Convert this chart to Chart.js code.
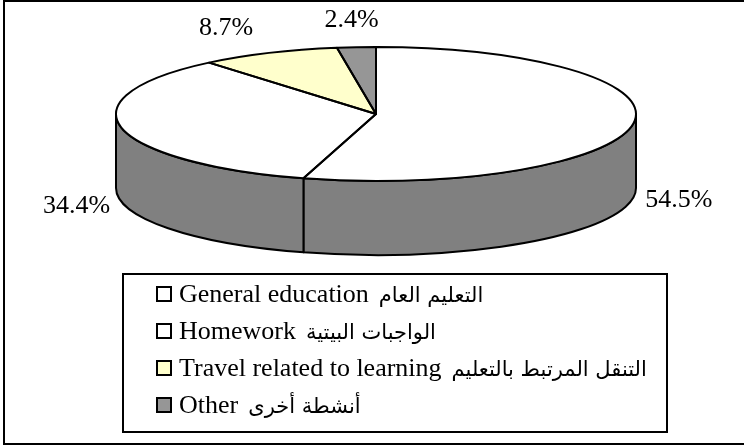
<!DOCTYPE html>
<html><head><meta charset="utf-8">
<script src="https://cdn.jsdelivr.net/npm/chart.js@4.4.0/dist/chart.umd.min.js"></script>
<style>html,body{margin:0;padding:0;background:#fff;}</style>
</head><body>
<canvas id="c" width="744" height="446"></canvas>
<script>
const categories = ['General education', 'Homework', 'Travel related to learning', 'Other'];
const arabicNames = ['التعليم العام', 'الواجبات البيتية', 'التنقل المرتبط بالتعليم', 'أنشطة أخرى'];
const shares = [54.5, 34.4, 8.7, 2.4];
const shareLabels = ['54.5%', '34.4%', '8.7%', '2.4%'];
const sliceColors = ['#FFFFFF', '#FFFFFF', '#FFFFCC', '#969696'];

const G = { cx: 376, cy: 114, rx: 260, ry: 67, depth: 74, side: '#808080' };
const SERIF = '"Liberation Serif", "Times New Roman", serif';

function applyPieTransform(ctx, el) {
  const R = el.outerRadius;
  ctx.translate(G.cx, G.cy);
  ctx.scale(G.rx / R, G.ry / R);
  ctx.translate(-el.x, -el.y);
}
function ept(t, dy) { return [G.cx + G.rx * Math.cos(t), G.cy + G.ry * Math.sin(t) + (dy || 0)]; }

const pie3d = {
  id: 'pie3d',
  beforeDraw(chart) {
    const ctx = chart.ctx;
    ctx.save();
    ctx.fillStyle = '#fff';
    ctx.fillRect(0, 0, chart.width, chart.height);
    ctx.restore();
  },
  beforeDatasetsDraw(chart) {
    const ctx = chart.ctx;
    const arcs = chart.getDatasetMeta(0).data;
    ctx.save();
    ctx.lineWidth = 2;
    ctx.lineJoin = 'round';
    ctx.strokeStyle = '#000';
    ctx.fillStyle = G.side;
    arcs.forEach(el => {
      const s = el.startAngle, e = el.endAngle;
      [0, 2 * Math.PI].forEach(k => {
        const lo = Math.max(s, k), hi = Math.min(e, k + Math.PI);
        if (hi - lo > 1e-4) {
          ctx.beginPath();
          ctx.ellipse(G.cx, G.cy, G.rx, G.ry, 0, lo, hi, false);
          const p = ept(hi, G.depth);
          ctx.lineTo(p[0], p[1]);
          ctx.ellipse(G.cx, G.cy + G.depth, G.rx, G.ry, 0, hi, lo, true);
          ctx.closePath();
          ctx.fill();
          ctx.stroke();
        }
      });
    });
    ctx.restore();
    ctx.save();
    applyPieTransform(ctx, arcs[0]);
  },
  afterDatasetsDraw(chart) {
    const ctx = chart.ctx;
    ctx.restore();
    const arcs = chart.getDatasetMeta(0).data;
    ctx.save();
    ctx.lineWidth = 2;
    ctx.lineJoin = 'round';
    ctx.strokeStyle = '#000';
    arcs.forEach(el => {
      ctx.save();
      applyPieTransform(ctx, el);
      ctx.beginPath();
      ctx.moveTo(el.x, el.y);
      ctx.arc(el.x, el.y, el.outerRadius, el.startAngle, el.endAngle);
      ctx.closePath();
      ctx.restore();
      ctx.stroke();
    });
    ctx.restore();
  },
  afterDraw(chart) {
    const ctx = chart.ctx;
    const arcs = chart.getDatasetMeta(0).data;
    const ds = chart.data.datasets[0];
    ctx.save();
    ctx.fillStyle = '#000';
    ctx.font = '26px ' + SERIF;
    ctx.textAlign = 'center';
    ctx.textBaseline = 'middle';
    arcs.forEach((el, i) => {
      const t = (el.startAngle + el.endAngle) / 2;
      const s = Math.sin(t), c = Math.cos(t);
      const gx = s < 0 ? 46 + 60 * Math.abs(c) * (1 - Math.abs(c)) * 4 : 46;
      const x = G.cx + (G.rx + gx) * c;
      const y = G.cy + (G.ry + (s > 0 ? 20 : 27)) * s + (s > 0 ? G.depth : 0);
      ctx.fillText(shareLabels[i], x, y);
    });
    ctx.lineWidth = 2;
    ctx.strokeStyle = '#000';
    ctx.strokeRect(123, 274, 544, 158);
    chart.data.labels.forEach((lab, i) => {
      const yc = 294 + 37 * i;
      ctx.fillStyle = ds.backgroundColor[i];
      ctx.fillRect(157, yc - 7, 14, 14);
      ctx.strokeRect(157, yc - 7, 14, 14);
      ctx.fillStyle = '#000';
      ctx.textAlign = 'left';
      ctx.font = '26px ' + SERIF;
      ctx.fillText(lab, 179, yc + 1);
      const w = ctx.measureText(lab).width;
      ctx.font = '21px "DejaVu Sans", sans-serif';
      ctx.direction = 'rtl';
      ctx.textAlign = 'right';
      const aw = ctx.measureText(arabicNames[i]).width;
      ctx.fillText(arabicNames[i], 179 + w + 10 + aw, yc + 3);
      ctx.direction = 'ltr';
    });
    ctx.strokeRect(4, 1, 745, 443);
    ctx.restore();
  }
};

new Chart(document.getElementById('c'), {
  type: 'pie',
  data: {
    labels: categories,
    datasets: [{
      data: shares,
      backgroundColor: sliceColors,
      borderWidth: 0,
      clip: false
    }]
  },
  options: {
    responsive: false,
    animation: false,
    events: [],
    plugins: { legend: { display: false }, tooltip: { enabled: false } }
  },
  plugins: [pie3d]
});
</script>
</body></html>
